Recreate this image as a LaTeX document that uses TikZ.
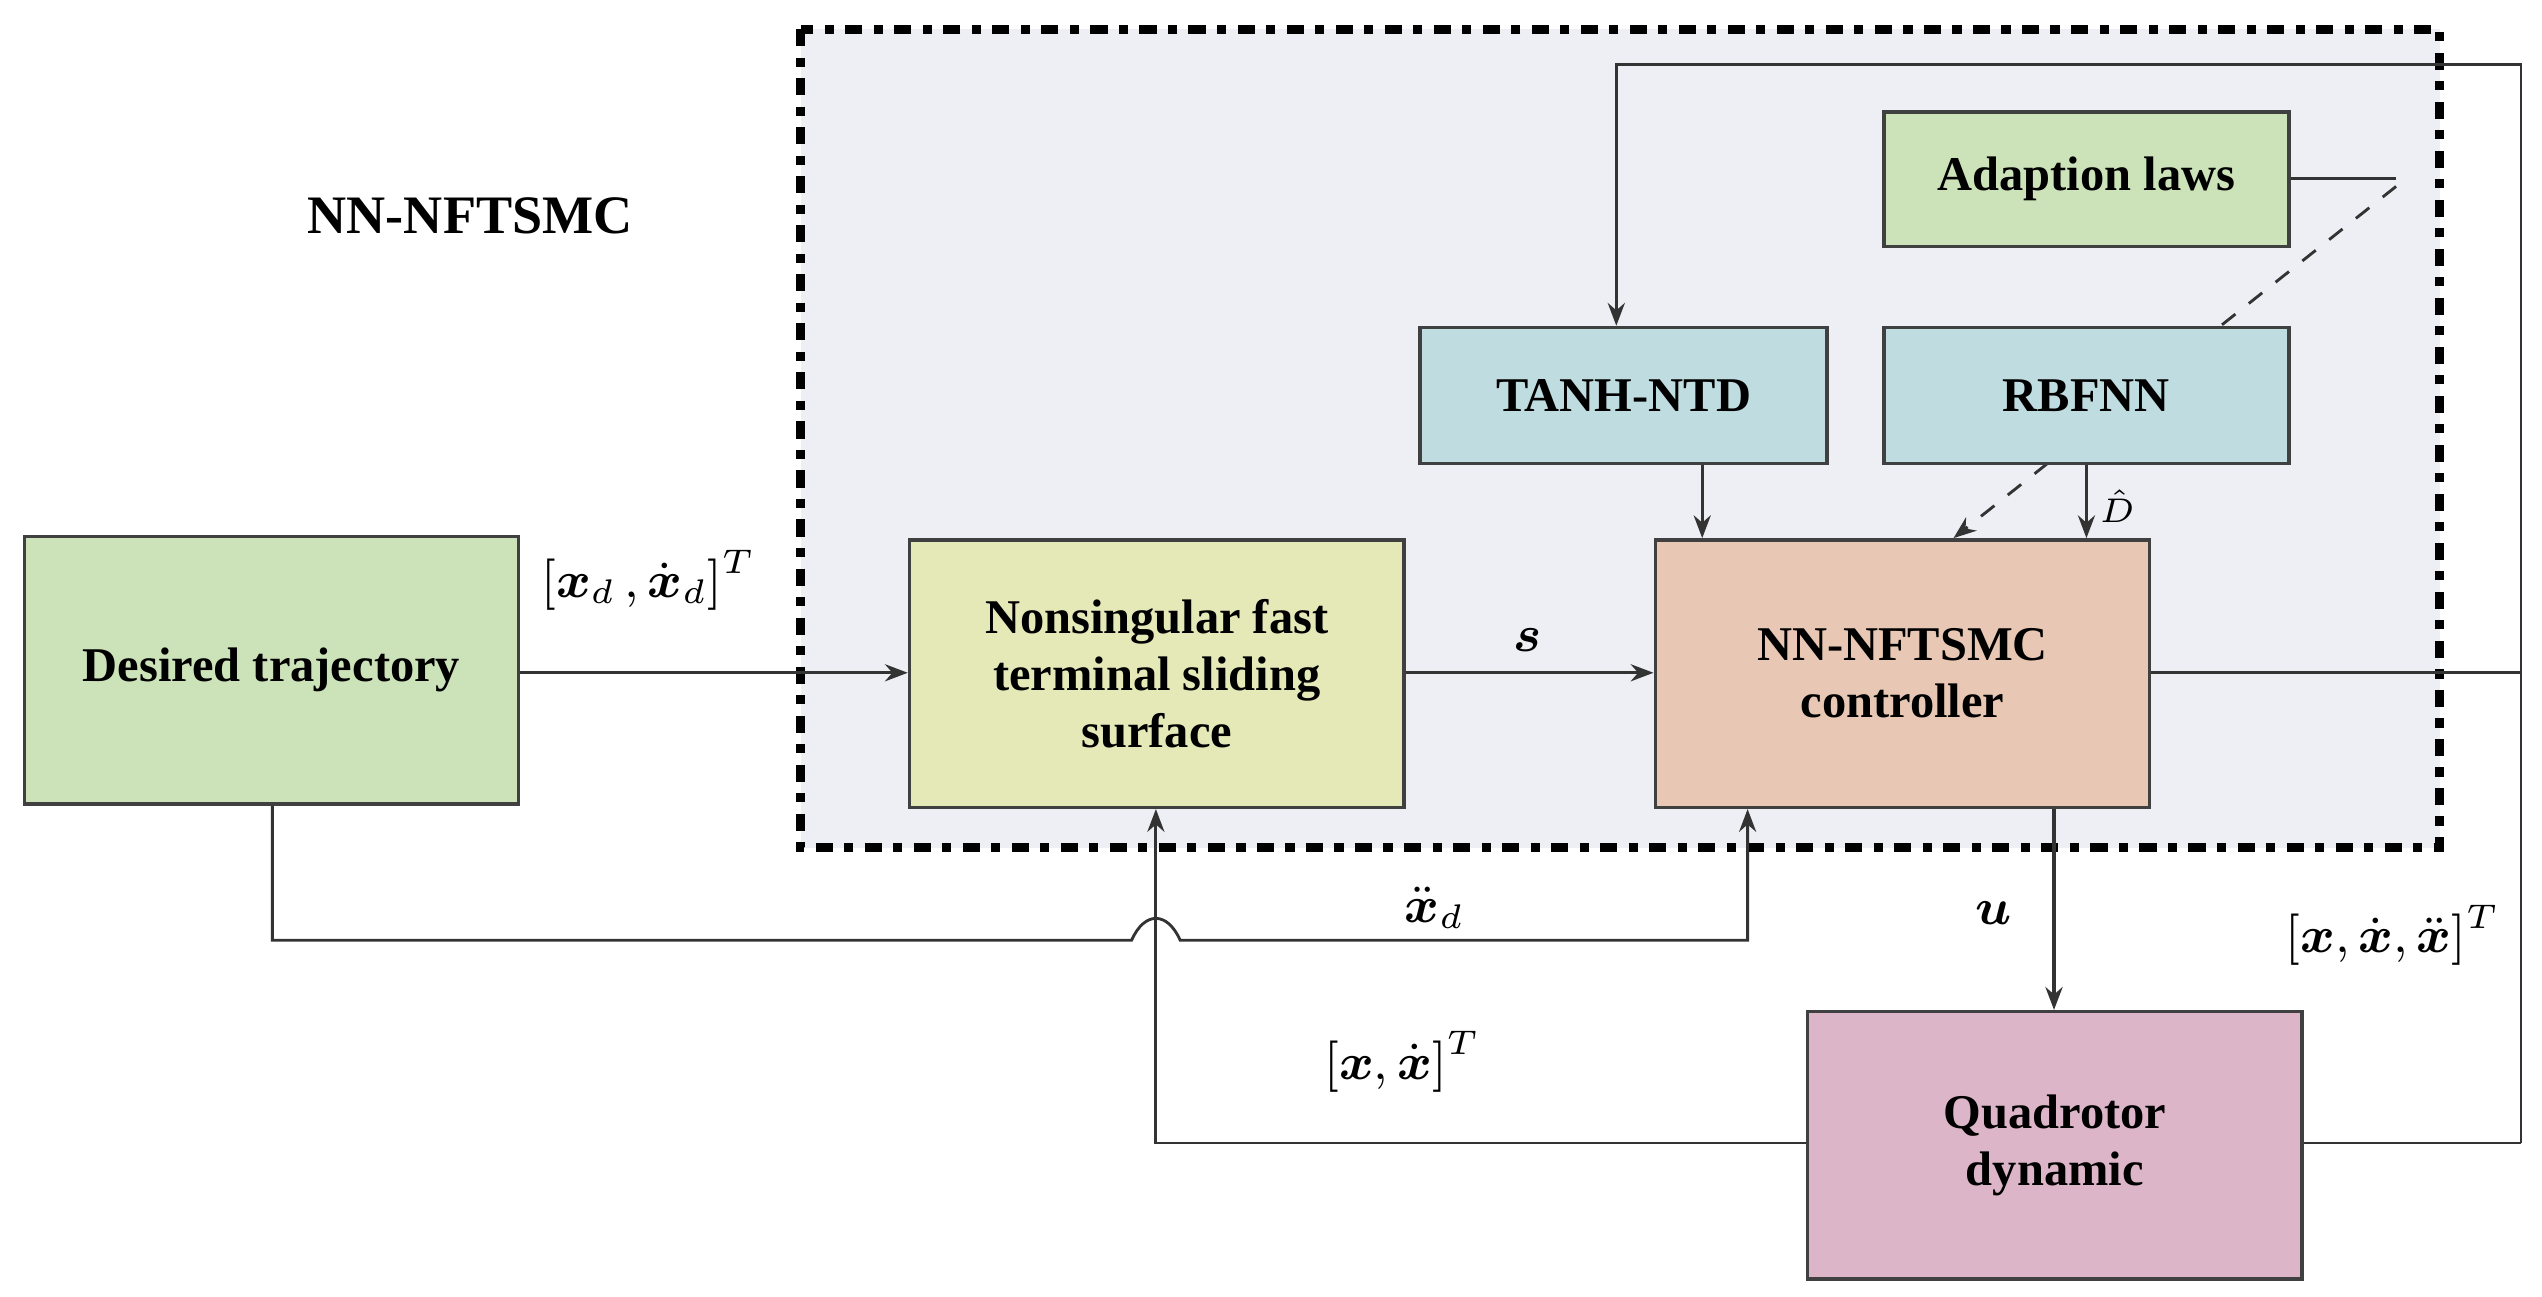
\documentclass[tikz,border=0pt]{standalone}
\usepackage{fontspec}
\setmainfont{Liberation Serif}
\usepackage{amsmath}
\usetikzlibrary{arrows.meta}
\pgfdeclarelayer{bg}\pgfdeclarelayer{mid}
\pgfsetlayers{bg,mid,main}
\begin{document}
\begin{tikzpicture}[x=0.01cm,y=-0.01cm,
 blk/.style={draw=black!75,line width=0.6pt,align=center,font=\fontsize{8.5}{10}\selectfont\bfseries,inner sep=0pt},
 ln/.style={draw=black!80,line width=0.5pt},
 ar/.style={ln,-{Stealth[length=4pt,width=3pt]}},
 lab/.style={font=\fontsize{9}{10}\selectfont,inner sep=1pt}]
\useasboundingbox (0,0) rectangle (1568,800);
\begin{pgfonlayer}{bg}
\fill[fill={rgb,255:red,238;green,239;blue,244}] (494,18) rectangle (1505,523);
\draw[line width=1.6pt,dash dot] (494,18) rectangle (1505,523);
\end{pgfonlayer}
\node[font=\fontsize{9.5}{10}\selectfont\bfseries] (title) at (290,133) {NN-NFTSMC};
\def\bx#1#2#3#4#5#6#7{\node[blk,fill={rgb,255:#7},minimum width=#4*0.01cm-#2*0.01cm,minimum height=#5*0.01cm-#3*0.01cm] (#1) at ({(#2+#4)/2},{(#3+#5)/2}) {#6};}
\bx{des}{15}{331}{320}{496}{Desired trajectory}{red,204;green,226;blue,184}
\bx{ns}{561}{333}{866}{498}{Nonsingular fast\\terminal sliding\\surface}{red,229;green,233;blue,184}
\bx{ctl}{1021}{333}{1326}{498}{NN-NFTSMC\\controller}{red,232;green,200;blue,180}
\bx{tanh}{876}{202}{1127}{286}{TANH-NTD}{red,191;green,220;blue,224}
\bx{rbf}{1162}{202}{1412}{286}{RBFNN}{red,191;green,220;blue,224}
\bx{ad}{1162}{69}{1412}{152}{Adaption laws}{red,204;green,226;blue,184}
\bx{quad}{1115}{624}{1420}{789}{Quadrotor\\dynamic}{red,220;green,181;blue,200}
\coordinate (r1) at (1555,415); \coordinate (r2) at (1555,40); \coordinate (r3) at (997,40);
\coordinate (r4) at (1555,705);
\coordinate (a1) at (1478,110); \coordinate (a2) at (1478,115);
\coordinate (d1) at (168,580); \coordinate (h1) at (698,580); \coordinate (h2) at (728,580); \coordinate (d2) at (1078,580);
\coordinate (q1) at (713,705);
\draw[ar] (des.east|-0,415) -- (ns.west|-0,415);
\draw[ar] (ns.east|-0,415) -- (ctl.west|-0,415);
\draw[ln] (ctl.east|-0,415) -- (r1);
\draw[ar] (r4) -- (r2) -- (r3) -- (tanh.north-|r3);
\draw[ln] (quad.east|-r4) -- (r4);
\draw[ar] (tanh.south-|1050,0) -- (ctl.north-|1050,0);
\draw[ar] (rbf.south-|1287,0) -- (ctl.north-|1287,0);
\draw[ln] (ad.east|-a1) -- (a1);
\begin{pgfonlayer}{mid}
\draw[ar,dashed] (a2) -- (ctl.north-|1205,0);
\end{pgfonlayer}
\draw[ar,line width=0.8pt] (ctl.south-|1267,0) -- (quad.north-|1267,0);
\draw[ar] (quad.west|-q1) -- (q1) -- (ns.south-|q1);
\draw[ar] (des.south-|d1) -- (d1) -- (h1) .. controls (706,562) and (720,562) .. (h2) -- (d2) -- (ctl.south-|d2);
\node[lab] (l1) at (400,358) {$\left[\boldsymbol{x}_d\,,\dot{\boldsymbol{x}}_d\right]^T$};
\node[lab] (l2) at (942,395) {$\boldsymbol{s}$};
\node[lab] (l3) at (1306,312) {\fontsize{6}{6}\selectfont$\hat{D}$};
\node[lab] (l4) at (1230,563) {$\boldsymbol{u}$};
\node[lab] (l5) at (885,560) {$\ddot{\boldsymbol{x}}_d$};
\node[lab] (l6) at (865,655) {$\left[\boldsymbol{x},\dot{\boldsymbol{x}}\right]^T$};
\node[lab] (l7) at (1476,577) {$\left[\boldsymbol{x},\dot{\boldsymbol{x}},\ddot{\boldsymbol{x}}\right]^T$};
\end{tikzpicture}
\end{document}
